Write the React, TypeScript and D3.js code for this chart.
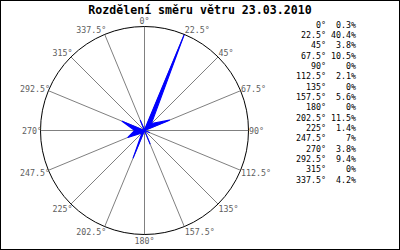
import React from "react";
import * as d3 from "d3";

const title = "Rozdělení směru větru 23.03.2010";
const directions = [0, 22.5, 45, 67.5, 90, 112.5, 135, 157.5, 180, 202.5, 225, 247.5, 270, 292.5, 315, 337.5];
const dirLabels = ["0°", "22.5°", "45°", "67.5°", "90°", "112.5°", "135°", "157.5°", "180°", "202.5°", "225°", "247.5°", "270°", "292.5°", "315°", "337.5°"];
const values = [0.3, 40.4, 3.8, 10.5, 0, 2.1, 0, 5.6, 0, 11.5, 1.4, 7, 3.8, 9.4, 0, 4.2];

const W = 400;
const H = 250;
const cx = 144.5;
const cy = 130.5;
const R = 104;
const mono = "'DejaVu Sans Mono', monospace";

export default function App() {
  const rScale = d3.scaleLinear().domain([0, d3.max(values) as number]).range([0, R]);
  const toRad = (deg: number) => (deg * Math.PI) / 180;
  const radial = d3
    .lineRadial<number>()
    .angle((_, i) => toRad(directions[i]))
    .radius((d) => rScale(d))
    .curve(d3.curveLinearClosed);
  const path = radial(values) || "";

  return (
    <svg
      width={W}
      height={H}
      viewBox={`0 0 ${W} ${H}`}
      style={{ position: "fixed", left: 0, top: 0, background: "#fff" }}
    >
      <rect x={0} y={0} width={W} height={H} fill="#fff" />
      <rect x={0.5} y={0.5} width={W - 1} height={H - 1} fill="none" stroke="#000" strokeWidth={1} />
      <text
        x={200}
        y={14}
        textAnchor="middle"
        fontFamily={mono}
        fontWeight="bold"
        fontSize={11.6}
        fill="#000"
      >
        {title}
      </text>
      {directions.map((d, i) => {
        const a = toRad(d);
        return (
          <line
            key={"s" + i}
            x1={cx}
            y1={cy}
            x2={cx + R * Math.sin(a)}
            y2={cy - R * Math.cos(a)}
            stroke="#808080"
            strokeWidth={1}
          />
        );
      })}
      <g transform={`translate(${cx},${cy})`}>
        <path d={path} fill="#0000ff" stroke="#0000ff" strokeWidth={1.1} strokeLinejoin="round" />
      </g>
      <circle cx={cx} cy={cy} r={R} fill="none" stroke="#000" strokeWidth={1} />
      {directions.map((d, i) => {
        const a = toRad(d);
        const px = cx + R * Math.sin(a);
        const py = cy - R * Math.cos(a);
        const s = Math.sin(a);
        let anchor: "start" | "middle" | "end" = "middle";
        let x = px;
        if (s > 0.01) {
          anchor = "start";
          x = px + 0.5;
        } else if (s < -0.01) {
          anchor = "end";
          x = px + 1.5;
        }
        const y = py + 3.5 - Math.cos(a) * 5.8;
        return (
          <text
            key={"l" + i}
            x={x}
            y={y}
            textAnchor={anchor}
            fontFamily={mono}
            fontSize={8.3}
            fill="#606060"
          >
            {dirLabels[i]}
          </text>
        );
      })}
      {directions.map((d, i) => {
        const y = 27.5 + i * 10.35;
        return (
          <g key={"g" + i}>
            <text x={326} y={y} textAnchor="end" fontFamily={mono} fontSize={8.3} fill="#000">
              {dirLabels[i]}
            </text>
            <text x={356} y={y} textAnchor="end" fontFamily={mono} fontSize={8.3} fill="#000">
              {`${values[i]}%`}
            </text>
          </g>
        );
      })}
    </svg>
  );
}
